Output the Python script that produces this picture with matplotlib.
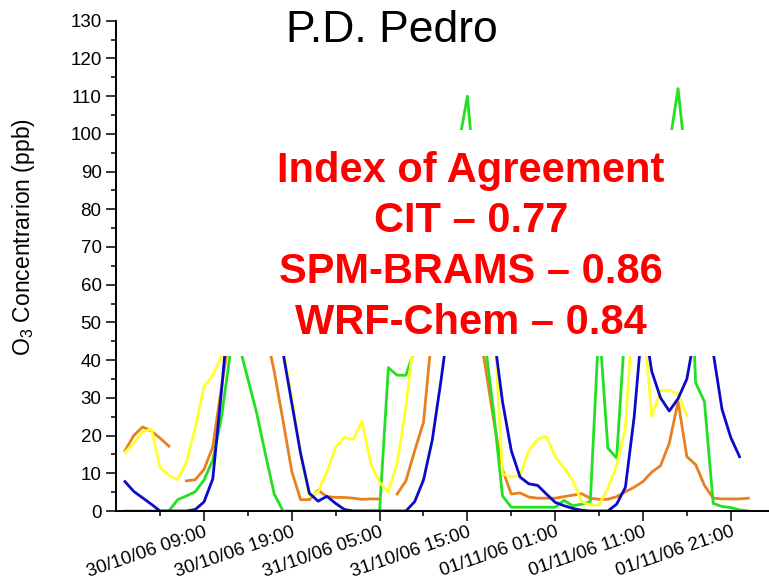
import numpy as np
import pandas as pd
import matplotlib
matplotlib.use('Agg')
import matplotlib.pyplot as plt
import matplotlib.dates as mdates
from matplotlib.patches import Rectangle

plt.rcParams['font.family'] = ['Liberation Sans', 'DejaVu Sans']
plt.rcParams['mathtext.default'] = 'regular'

nan = np.nan

# hourly O3 (ppb), 30/10/06 00:00 .. 01/11/06 23:00
times = pd.date_range('2006-10-30 00:00', periods=72, freq='h')

orange = [16, 20, 22.3, 21.2, 19.3, 17.2, nan, 8, 8.3, 11,
          17, 33, 48, 58, 62, 58, 48, 37, 24, 10.5,
          3, 3, 5.5, 3.8, 3.6, 3.6, 3.4, 3.1, 3.2, 3.2,
          nan, 4.5, 8, 16, 23.5, 48, 58, 64, 66, 62,
          52, 39, 24, 11, 4.5, 4.8, 3.7, 3.4, 3.4, 3.4,
          3.8, 4.2, 4.6, 3.4, 3.1, 3.1, 3.8, 5.1, 6.3, 7.8,
          10.3, 12, 18, 29, 14.4, 12.3, 6.8, 3.4, 3.2, 3.2,
          3.2, 3.4]

blue = [7.8, 5.2, 3.5, 1.8, 0, 0, 0, 0, 0.4, 2.4,
        8.5, 32, 58, 68, 72, 70, 64, 55, 42, 28.6,
        15.3, 4.7, 2.6, 3.9, 2, 0.4, 0, 0, 0, 0,
        0, 0, 0, 2.5, 8.2, 18.8, 34.7, 52, 62, 68,
        66, 58, 47, 29, 16, 9, 7.2, 6.8, 4.5, 2.3,
        1.4, 0.7, 0.2, 0, 0, 0, 1.8, 6.3, 25, 52,
        37, 30, 26.5, 29.8, 35, 48, 56, 42, 27, 19.5,
        14.4, nan]

green = [0, 0, 0, 0, 0, 0, 3, 4, 5.1, 8.2,
         13.5, 25, 42, 44, 35, 26, 15, 4.5, 0, 0,
         0, 0, 0, 0, 0, 0, 0, 0, 0, 0,
         38, 36, 36, 43, 58, 70, 78, 84, 97, 110,
         84, 45, 26, 4, 1, 1, 1, 1, 1, 1,
         2.8, 1.4, 1.8, 2.5, 50, 16.7, 14, 50, 65, 78,
         85, 90, 97, 112, 90, 34, 29, 2, 1.2, 0.9,
         0.3, 0]

yellow = [15.5, 18, 21, 21.7, 11.5, 9.5, 8.3, 13, 22, 33,
          36, 41, 52, 62, 68, 66, 60, 52, 43, 30,
          15.3, 3.8, 5.1, 10.4, 17, 19.5, 19, 23.8, 12.5, 7.6,
          5.1, 12.6, 27.7, 48, 60, 68, 72, 72, 70, 66,
          62, 58, 52, 9.8, 9, 9.5, 16, 19, 19.8, 14.4,
          11.5, 8, 2.5, 1.6, 1.6, 6, 12, 22, 58, 52,
          25, 32, 32, 31, 25.2, nan, nan, nan, nan, nan,
          nan, nan]

tick_labels = ['30/10/06 09:00', '30/10/06 19:00', '31/10/06 05:00',
               '31/10/06 15:00', '01/11/06 01:00', '01/11/06 11:00',
               '01/11/06 21:00']

agreement = ['Index of Agreement', 'CIT \u2013 0.77',
             'SPM-BRAMS \u2013 0.86', 'WRF-Chem \u2013 0.84']

W, H = 769, 587
fig = plt.figure(figsize=(W / 100, H / 100), dpi=100)
ax = fig.add_axes([116.2 / W, 76 / H, 684.8 / W, 490.3 / H])

lw = 2.0
ax.plot(times, orange, color='#E8801E', lw=lw, zorder=2)
ax.plot(times, green, color='#22E022', lw=lw, zorder=2)
ax.plot(times, yellow, color='#FFFF2E', lw=lw, zorder=2)
ax.plot(times, blue, color='#0A0AC8', lw=lw, zorder=2)

x0 = pd.Timestamp('2006-10-29 23:00')
x1 = pd.Timestamp('2006-11-02 05:00')
ax.set_xlim(x0, x1)
ax.set_ylim(0, 130)

major = pd.to_datetime(tick_labels, format='%d/%m/%y %H:%M')
minor = major - pd.Timedelta(hours=5)
minor = minor.append(pd.DatetimeIndex([major[-1] + pd.Timedelta(hours=5)]))
ax.set_xticks(major)
ax.set_xticklabels(tick_labels, rotation=19, ha='right', va='top',
                   rotation_mode='anchor', fontsize=13.5)
ax.set_xticks(minor, minor=True)
ax.set_yticks(np.arange(0, 131, 10))
ax.set_yticks(np.arange(0, 131, 5), minor=True)
ax.tick_params(axis='y', labelsize=13.5)
ax.tick_params(which='major', length=7, width=1.1, direction='out')
ax.tick_params(which='minor', length=3.5, width=1.1, direction='out')
ax.tick_params(axis='x', which='major', pad=2)

for s in ['top', 'right']:
    ax.spines[s].set_visible(False)
for s in ['left', 'bottom']:
    ax.spines[s].set_linewidth(1.4)

ax.set_ylabel('O$_3$ Concentrarion (ppb)', fontsize=16.5, va='center')
ax.yaxis.set_label_coords((24 - 116.2) / 684.8, (511 - 237) / 490.3)

# white panel with the agreement index text
bx0 = mdates.date2num(pd.Timestamp('2006-10-30 09:06'))
bx1 = mdates.date2num(pd.Timestamp('2006-11-01 20:00'))
ax.add_patch(Rectangle((bx0, 41.2), bx1 - bx0, 59.8, facecolor='white',
                       edgecolor='none', zorder=3))

for i, line in enumerate(agreement):
    fig.text(471 / W, 1 - (182 + 50.5 * i) / H, line, ha='center',
             va='baseline', fontsize=30, fontweight='bold', color='#FF0000',
             zorder=5)

fig.text(392 / W, 1 - 31 / H, 'P.D. Pedro', ha='center', va='center',
         fontsize=32, color='black')

fig.savefig('out.png', dpi=100)
